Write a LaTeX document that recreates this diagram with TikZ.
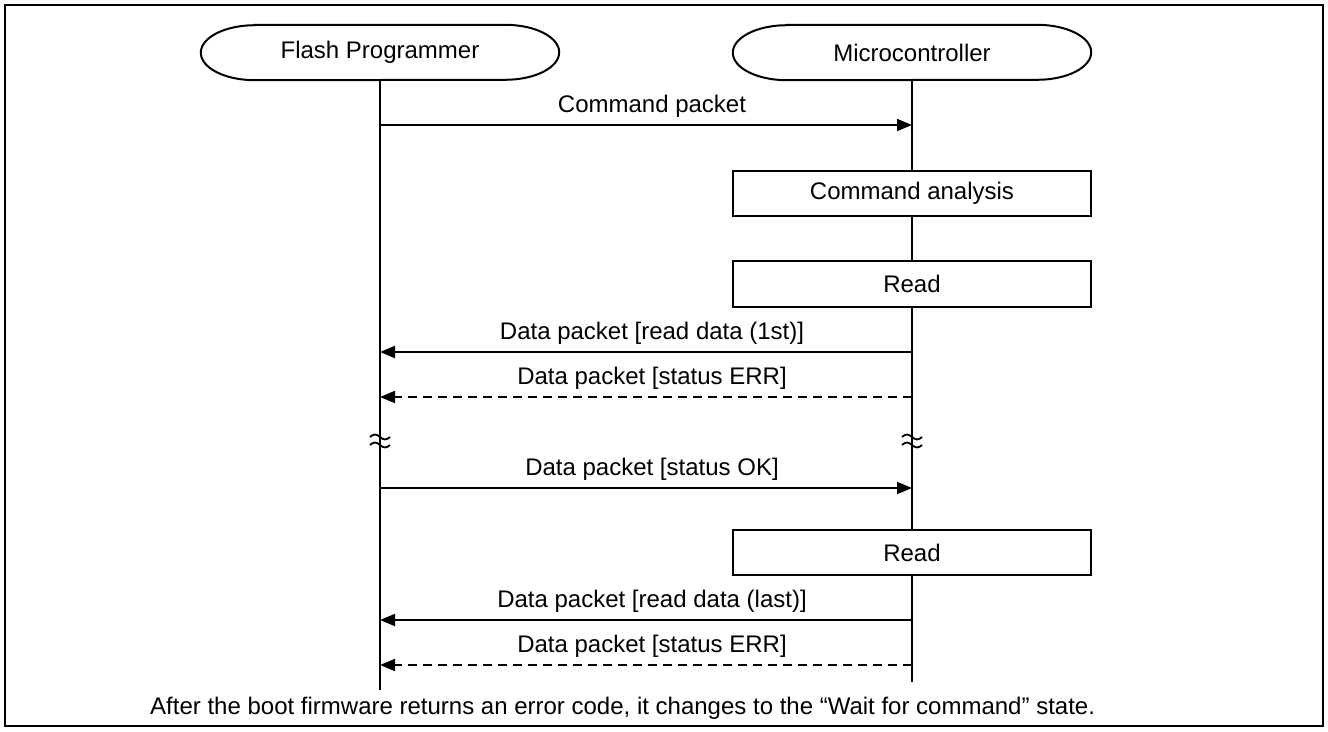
\documentclass[tikz,border=0pt]{standalone}
\usepackage{fontspec}
\setmainfont{Liberation Sans}
\usetikzlibrary{arrows.meta}
\begin{document}
\begin{tikzpicture}[x=1pt,y=-1pt,
  every node/.style={font=\fontsize{24}{28}\selectfont, inner sep=0pt},
  lane/.style={line width=2pt},
  msg/.style={line width=1.8pt,-{Triangle[length=15pt,width=12pt]}},
  rmsg/.style={msg, dash pattern=on 9pt off 6pt},
  actbox/.style={draw,fill=white,line width=2pt,minimum width=358pt,minimum height=45pt},
  party/.style={minimum width=358pt,minimum height=55pt},
  stadium/.style={line width=2pt},
  lbl/.style={anchor=base},
  brk/.style={line width=1.8pt}
  ]
\useasboundingbox (0,0) rectangle (1328,731);
\draw[line width=2pt] (5,5) rectangle (1323,726);

% participants
\node[party] (fp) at (380,52.5) {Flash Programmer};
\node[party] (mc) at (912,52.5) {Microcontroller};
\foreach \n in {fp,mc}{
  \draw[stadium] ([xshift=54pt]\n.north west) -- ([xshift=-54pt]\n.north east)
    arc[start angle=90,end angle=-90,x radius=54pt,y radius=27.5pt]
    -- ([xshift=54pt]\n.south west)
    arc[start angle=270,end angle=90,x radius=54pt,y radius=27.5pt] -- cycle;
}

% lifeline ends
\coordinate (fpend) at (380,690);
\coordinate (mcend) at (912,682);
\draw[lane] (fp.south) -- (fpend);
\draw[lane] (mc.south) -- (mcend);

% activity boxes
\node[actbox] (ca) at (912,193.5) {Command analysis};
\node[actbox,minimum height=46pt] (rd1) at (912,284) {Read};
\node[actbox] (rd2) at (912,552.5) {Read};

% message end points
\foreach \i/\y in {1/125,2/352,3/397,4/488,5/620,6/665}{
  \coordinate (L\i) at (380,\y);
  \coordinate (R\i) at (912,\y);
}

\draw[msg] (L1) -- (R1);
\node[lbl] (t1) at (652,112) {Command packet};

\draw[msg] (R2) -- (L2);
\node[lbl] (t2) at (652,339) {Data packet [read data (1st)]};

\draw[rmsg] (R3) -- (L3);
\node[lbl] (t3) at (652,384) {Data packet [status ERR]};

\draw[msg] (L4) -- (R4);
\node[lbl] (t4) at (652,475) {Data packet [status OK]};

\draw[msg] (R5) -- (L5);
\node[lbl] (t5) at (652,607) {Data packet [read data (last)]};

\draw[rmsg] (R6) -- (L6);
\node[lbl] (t6) at (652,652) {Data packet [status ERR]};

% break marks
\foreach \x in {380,912}{
  \draw[brk] (\x-10,437) sin (\x-5,434.5) cos (\x,437) sin (\x+5,439.5) cos (\x+10,437);
  \draw[brk] (\x-10,445) sin (\x-5,442.5) cos (\x,445) sin (\x+5,447.5) cos (\x+10,445);
}

\node[anchor=base west] (note) at (150,714) {After the boot firmware returns an error code, it changes to the “Wait for command” state.};
\end{tikzpicture}
\end{document}
